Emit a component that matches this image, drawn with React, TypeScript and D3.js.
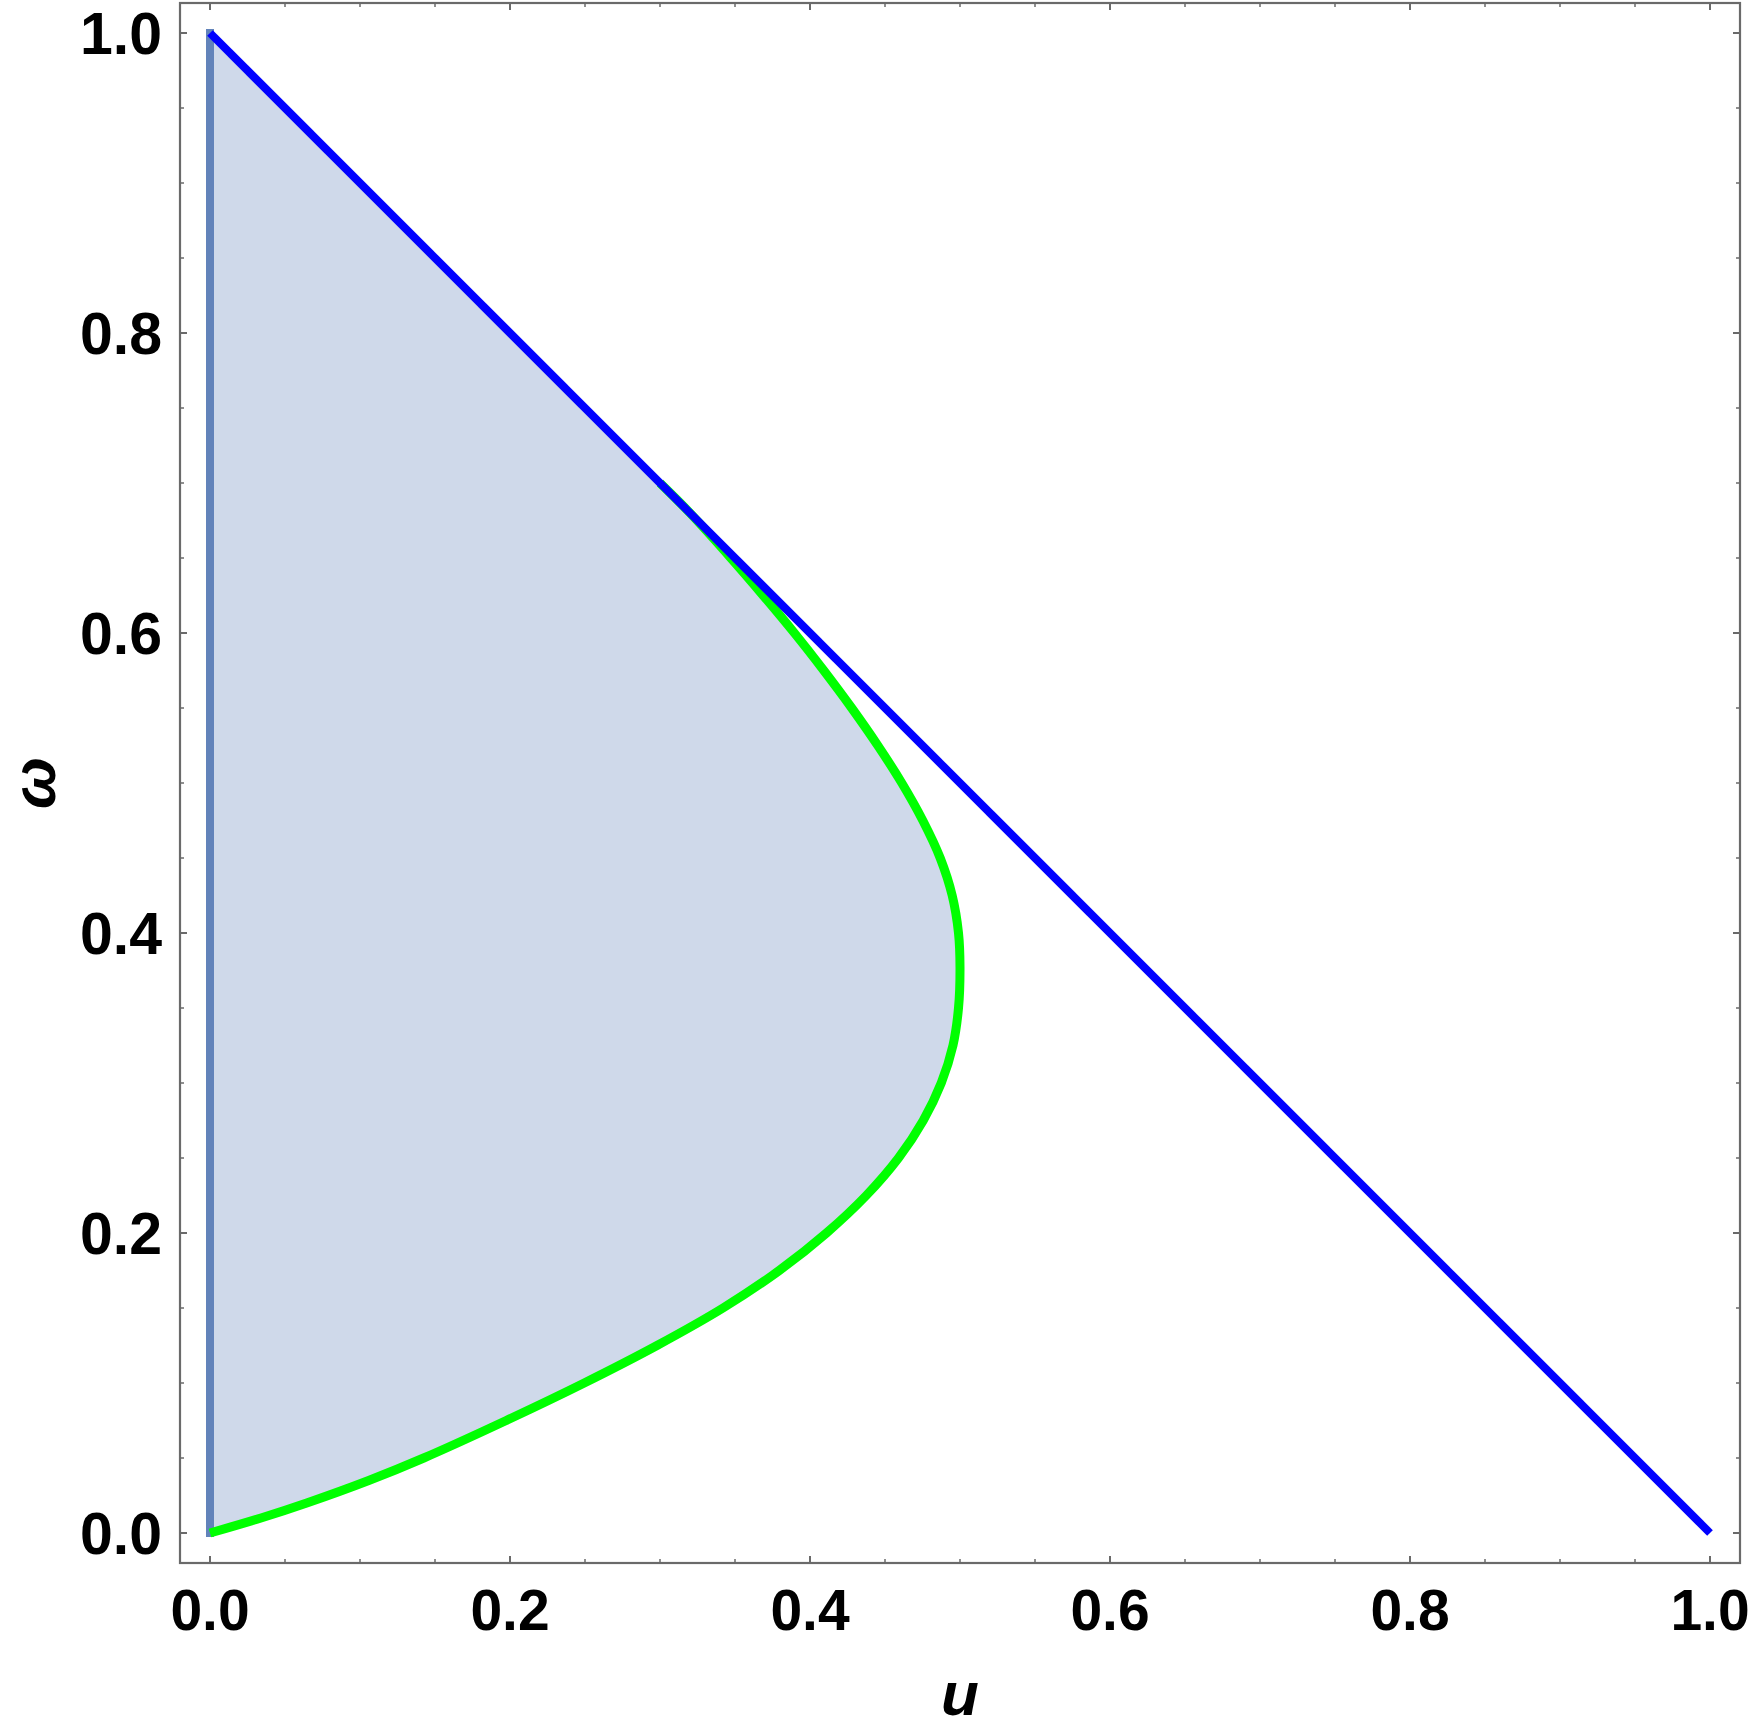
import React from "react";
import * as d3 from "d3";

// ---- data ----
const xMajorTicks = [0, 0.2, 0.4, 0.6, 0.8, 1.0];
const yMajorTicks = [0, 0.2, 0.4, 0.6, 0.8, 1.0];
const xMinorTicks = [0.05, 0.1, 0.15, 0.25, 0.3, 0.35, 0.45, 0.5, 0.55, 0.65, 0.7, 0.75, 0.85, 0.9, 0.95];
const yMinorTicks = [0.05, 0.1, 0.15, 0.25, 0.3, 0.35, 0.45, 0.5, 0.55, 0.65, 0.7, 0.75, 0.85, 0.9, 0.95];
const tickLabels = ["0.0", "0.2", "0.4", "0.6", "0.8", "1.0"];

// green boundary curve: omega values and the u read at each
const greenW = [0, 0.01, 0.02, 0.035, 0.05, 0.075, 0.1, 0.125, 0.15, 0.175, 0.2, 0.225, 0.25, 0.275, 0.3, 0.325, 0.35, 0.377, 0.4, 0.425, 0.45, 0.475, 0.5, 0.525, 0.55, 0.575, 0.6, 0.625, 0.65, 0.68, 0.7];
const greenU = [0, 0.034, 0.0645, 0.1058, 0.1425, 0.1975, 0.2495, 0.298, 0.342, 0.3795, 0.411, 0.4375, 0.459, 0.4755, 0.4875, 0.4953, 0.499, 0.5, 0.499, 0.4948, 0.4868, 0.4752, 0.4612, 0.4452, 0.4278, 0.4092, 0.3896, 0.3688, 0.3472, 0.32, 0.3];

// blue line u + omega = 1
const blueU = [0, 1];
const blueW = [1, 0];

// steel-blue vertical edge u = 0
const edgeU = [0, 0];
const edgeW = [0, 1];

const W = 1750;
const H = 1732;

export default function App() {
  const x = d3.scaleLinear().domain([-0.02, 1.02]).range([180, 1740]);
  const y = d3.scaleLinear().domain([-0.02, 1.02]).range([1563, 3]);

  const green = greenU.map((u, i) => [u, greenW[i]] as [number, number]);
  const blue = blueU.map((u, i) => [u, blueW[i]] as [number, number]);
  const edge = edgeU.map((u, i) => [u, edgeW[i]] as [number, number]);

  const curveLine = d3
    .line<[number, number]>()
    .x((d) => x(d[0]))
    .y((d) => y(d[1]))
    .curve(d3.curveCatmullRom.alpha(0.5));
  const straight = d3
    .line<[number, number]>()
    .x((d) => x(d[0]))
    .y((d) => y(d[1]));

  const greenD = curveLine(green) || "";
  const fillD = greenD + `L${x(0)},${y(1)}L${x(0)},${y(0)}Z`;

  const frame = "#6a6a6a";
  const majorLen = 7;
  const minorLen = 4;
  const [x0, x1] = x.range();
  const [y0, y1] = y.range(); // y0 bottom, y1 top

  const font = "'Liberation Sans', Arial, Helvetica, sans-serif";

  return (
    <svg
      width={W}
      height={H}
      viewBox={`0 0 ${W} ${H}`}
      style={{ position: "absolute", left: 0, top: 0, display: "block", background: "#fff" }}
    >
      <rect x={0} y={0} width={W} height={H} fill="#fff" />
      {/* shaded region */}
      <path d={fillD} fill="#cfd9ea" stroke="none" />
      {/* vertical edge */}
      <path d={straight(edge) || ""} stroke="#6283ba" strokeWidth={8} fill="none" strokeLinecap="square" />
      {/* green curve */}
      <path d={greenD} stroke="#00ff00" strokeWidth={9} fill="none" strokeLinecap="butt" />
      {/* blue line */}
      <path d={straight(blue) || ""} stroke="#0000ff" strokeWidth={8} fill="none" strokeLinecap="butt" />

      {/* frame */}
      <rect x={x0} y={y1} width={x1 - x0} height={y0 - y1} fill="none" stroke={frame} strokeWidth={2.2} />

      {/* ticks */}
      {xMajorTicks.map((t) => (
        <g key={"xm" + t}>
          <line x1={x(t)} x2={x(t)} y1={y0} y2={y0 - majorLen} stroke={frame} strokeWidth={2} />
          <line x1={x(t)} x2={x(t)} y1={y1} y2={y1 + majorLen} stroke={frame} strokeWidth={2} />
        </g>
      ))}
      {xMinorTicks.map((t) => (
        <g key={"xn" + t}>
          <line x1={x(t)} x2={x(t)} y1={y0} y2={y0 - minorLen} stroke={frame} strokeWidth={1.5} />
          <line x1={x(t)} x2={x(t)} y1={y1} y2={y1 + minorLen} stroke={frame} strokeWidth={1.5} />
        </g>
      ))}
      {yMajorTicks.map((t) => (
        <g key={"ym" + t}>
          <line x1={x0} x2={x0 + majorLen} y1={y(t)} y2={y(t)} stroke={frame} strokeWidth={2} />
          <line x1={x1} x2={x1 - majorLen} y1={y(t)} y2={y(t)} stroke={frame} strokeWidth={2} />
        </g>
      ))}
      {yMinorTicks.map((t) => (
        <g key={"yn" + t}>
          <line x1={x0} x2={x0 + minorLen} y1={y(t)} y2={y(t)} stroke={frame} strokeWidth={1.5} />
          <line x1={x1} x2={x1 - minorLen} y1={y(t)} y2={y(t)} stroke={frame} strokeWidth={1.5} />
        </g>
      ))}

      {/* tick labels */}
      {xMajorTicks.map((t, i) => (
        <text
          key={"xl" + t}
          x={x(t)}
          y={1630}
          textAnchor="middle"
          fontFamily={font}
          fontWeight="bold"
          fontSize={57}
          fill="#000"
        >
          {tickLabels[i]}
        </text>
      ))}
      {yMajorTicks.map((t, i) => (
        <text
          key={"yl" + t}
          x={162}
          y={y(t) + 21}
          textAnchor="end"
          fontFamily={font}
          fontWeight="bold"
          fontSize={59}
          fill="#000"
        >
          {tickLabels[i]}
        </text>
      ))}

      {/* axis titles */}
      <text
        x={(x(0) + x(1)) / 2}
        y={1715}
        textAnchor="middle"
        fontFamily={font}
        fontWeight="bold"
        fontStyle="italic"
        fontSize={62}
        fill="#000"
      >
        u
      </text>
      <text
        transform={`translate(55,${(y(0) + y(1)) / 2}) rotate(-90)`}
        textAnchor="middle"
        fontFamily={font}
        fontWeight="bold"
        fontStyle="italic"
        fontSize={62}
        fill="#000"
      >
        ω
      </text>
    </svg>
  );
}
